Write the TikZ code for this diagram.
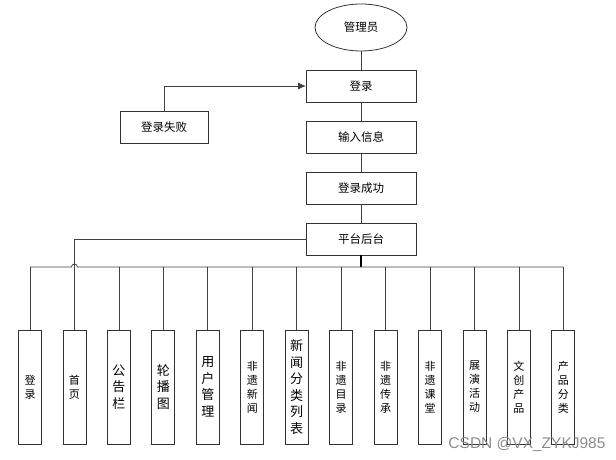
\documentclass[tikz,border=0pt]{standalone}
\usepackage{fontspec}
\setmainfont{Noto Sans CJK SC}
\newfontfamily\wmfont{Liberation Sans}
\usepackage{tikz}
\usetikzlibrary{arrows.meta,positioning,shapes.geometric,calc}
\tikzset{
  flowbox/.style={draw=black!80, line width=0.9pt, minimum width=110pt, minimum height=32pt, inner sep=2pt, outer sep=0pt, font=\fontsize{11.5}{14}\selectfont, fill=white},
  flowround/.style={draw=black!80, ellipse, line width=0.8pt, minimum width=92pt, minimum height=47pt, inner sep=1pt, outer sep=0pt, font=\fontsize{11.5}{14}\selectfont},
  modbox/.style={draw=black!80, line width=0.9pt, minimum width=23pt, minimum height=114pt, inner sep=1pt, outer sep=0pt, align=center, font=\fontsize{11}{14}\selectfont},
  modboxbig/.style={modbox, font=\fontsize{13}{16.5}\selectfont},
  flowline/.style={draw=black!75, line width=0.8pt},
  flowarrow/.style={flowline, -{Latex[length=8pt,width=7pt]}},
  busline/.style={draw=black, line width=1.6pt},
  watermark/.style={text=black!45, font=\wmfont\fontsize{15.5}{18}\selectfont, inner sep=0pt}
}

\begin{document}
\begin{tikzpicture}[x=1pt, y=1pt]
\useasboundingbox (0,0) rectangle (616,460);

% main column
\node[flowbox] (login) at (361,374) {登录};
\node[flowround, above=19pt of login] (admin) {管理员};
\node[flowbox, below=19pt of login] (input) {输入信息};
\node[flowbox, below=19pt of input] (success) {登录成功};
\node[flowbox, below=19pt of success] (platform) {平台后台};
\node[flowbox, minimum width=88pt] (fail) at (164,333) {登录失败};

\draw[flowline] (admin.south) -- (login.north);
\draw[flowline] (login.south) -- (input.north);
\draw[flowline] (input.south) -- (success.north);
\draw[flowline] (success.south) -- (platform.north);
\draw[flowarrow] (fail.north) |- (login.west);

% modules
\node[modbox] (mlogin) at (30,73) {登\\录};
\node[modbox, right=21.45pt of mlogin] (mhome) {首\\页};
\node[modboxbig, right=21.45pt of mhome] (mnotice) {公\\告\\栏};
\node[modboxbig, right=21.45pt of mnotice] (mcarousel) {轮\\播\\图};
\node[modboxbig, right=21.45pt of mcarousel] (musers) {用\\户\\管\\理};
\node[modbox, right=21.45pt of musers] (mnews) {非\\遗\\新\\闻};
\node[modboxbig, right=21.45pt of mnews] (mnewscat) {新\\闻\\分\\类\\列\\表};
\node[modbox, right=21.45pt of mnewscat] (mcatalog) {非\\遗\\目\\录};
\node[modbox, right=21.45pt of mcatalog] (mheritage) {非\\遗\\传\\承};
\node[modbox, right=21.45pt of mheritage] (mlesson) {非\\遗\\课\\堂};
\node[modbox, right=21.45pt of mlesson] (mshow) {展\\演\\活\\动};
\node[modbox, right=21.45pt of mshow] (mproduct) {文\\创\\产\\品};
\node[modbox, right=21.45pt of mproduct] (mprodcat) {产\\品\\分\\类};

% bus
\coordinate (bus) at ($(platform.south)+(0,-12)$);
\draw[busline] (platform.south) -- (bus);
\draw[flowline] (mlogin.north |- bus) -- ($(mhome.north |- bus)+(-3,0)$) arc[start angle=180, end angle=0, radius=3pt] -- (mprodcat.north |- bus);
\foreach \m in {mlogin,mnotice,mcarousel,musers,mnews,mnewscat,mcatalog,mheritage,mlesson,mshow,mproduct,mprodcat}
  \draw[flowline] (\m.north) -- (\m.north |- bus);
\draw[flowline] (platform.west) -| (mhome.north);

\node[watermark] (wm) at (527,16) {CSDN @VX\_ZYKJ985};
\end{tikzpicture}
\end{document}
